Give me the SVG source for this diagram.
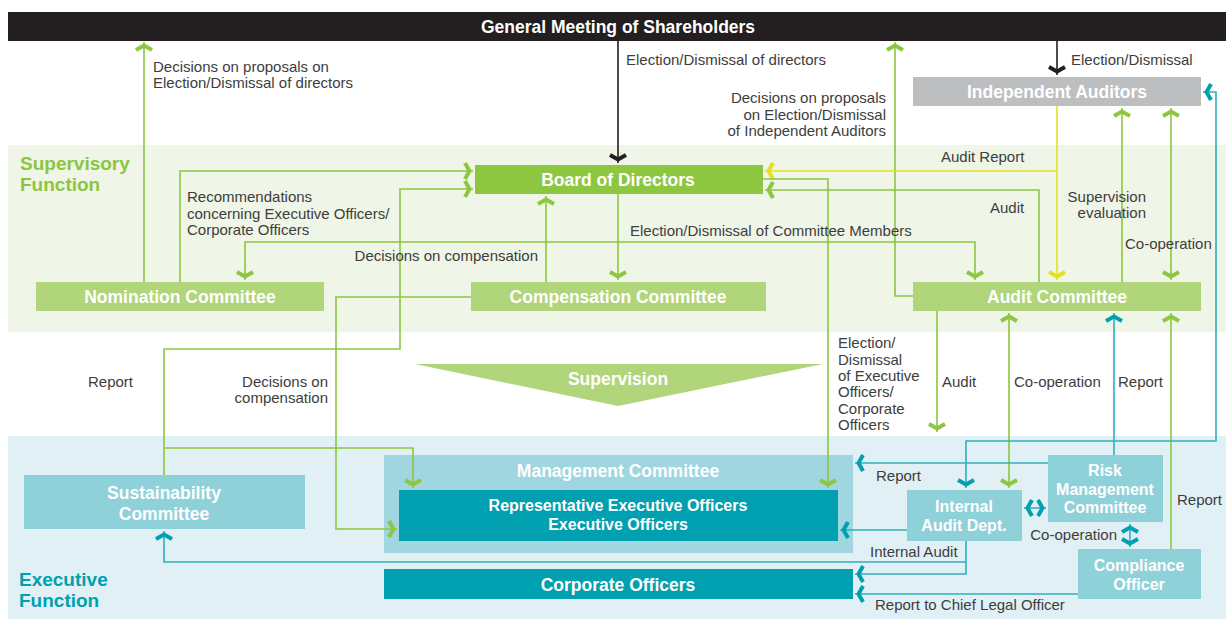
<svg xmlns="http://www.w3.org/2000/svg" width="1229" height="619" viewBox="0 0 1229 619">
<style>
.lbl{font-family:"Liberation Sans",Arial,sans-serif;font-size:15px;fill:#3d3d3d}
.nt{font-family:"Liberation Sans",Arial,sans-serif;font-size:17.5px;font-weight:bold;fill:#ffffff;text-anchor:middle}
.nm{font-size:16px}
.sec{font-family:"Liberation Sans",Arial,sans-serif;font-size:19px;font-weight:bold}
.g{fill:none;stroke:#8dc63f;stroke-width:1.6}
.y{fill:none;stroke:#e6e11e;stroke-width:1.6}
.k{fill:none;stroke:#231f20;stroke-width:1.6}
.t{fill:none;stroke:#2fb0be;stroke-width:1.6}
</style>
<defs>
<marker id="mg" viewBox="-13 -12 15 24" markerWidth="15" markerHeight="24" refX="0" refY="0" orient="auto-start-reverse" markerUnits="userSpaceOnUse"><path d="M-8,-8 L-3.5,0 L-8,8" fill="none" stroke="#8dc63f" stroke-width="4"/></marker>
<marker id="my" viewBox="-13 -12 15 24" markerWidth="15" markerHeight="24" refX="0" refY="0" orient="auto-start-reverse" markerUnits="userSpaceOnUse"><path d="M-8,-8 L-3.5,0 L-8,8" fill="none" stroke="#e6e11e" stroke-width="4"/></marker>
<marker id="mk" viewBox="-13 -12 15 24" markerWidth="15" markerHeight="24" refX="0" refY="0" orient="auto-start-reverse" markerUnits="userSpaceOnUse"><path d="M-8,-8 L-3.5,0 L-8,8" fill="none" stroke="#231f20" stroke-width="4"/></marker>
<marker id="mt" viewBox="-13 -12 15 24" markerWidth="15" markerHeight="24" refX="0" refY="0" orient="auto-start-reverse" markerUnits="userSpaceOnUse"><path d="M-8,-8 L-3.5,0 L-8,8" fill="none" stroke="#00a0b0" stroke-width="4"/></marker>
</defs>
<rect width="1229" height="619" fill="#ffffff"/>
<g id="bands">
<rect x="8" y="145" width="1218" height="187" fill="#eff5e7"/>
<rect x="8" y="436" width="1218" height="183" fill="#e1f0f4"/>
<text class="sec" x="20" y="170" fill="#8cc63f">Supervisory</text>
<text class="sec" x="20" y="190.5" fill="#8cc63f">Function</text>
<text class="sec" x="19" y="586" fill="#00a0b0">Executive</text>
<text class="sec" x="19" y="606.5" fill="#00a0b0">Function</text>
</g>
<g id="gm"><rect x="8" y="12" width="1218" height="29" fill="#231f20"/><text class="nt" x="618" y="33" font-size="19.5">General Meeting of Shareholders</text></g>
<g id="independent-auditors"><rect x="913" y="77" width="288" height="29" fill="#bcbec0"/><text class="nt" x="1057" y="98">Independent Auditors</text></g>
<g id="board"><rect x="475" y="165" width="288" height="29" fill="#8dc63f"/><text class="nt" x="618" y="186">Board of Directors</text></g>
<g id="nomination"><rect x="36" y="282" width="288" height="29" fill="#b0d57a"/><text class="nt" x="180" y="303">Nomination Committee</text></g>
<g id="compensation"><rect x="471" y="282" width="295" height="29" fill="#b0d57a"/><text class="nt" x="618" y="303">Compensation Committee</text></g>
<g id="audit-committee"><rect x="913" y="282" width="288" height="29" fill="#b0d57a"/><text class="nt" x="1057" y="303">Audit Committee</text></g>
<g id="supervision"><polygon points="415,364 823,364 618,406" fill="#b0d57a"/><text class="nt" x="618" y="385">Supervision</text></g>
<g id="management"><rect x="384" y="455" width="469" height="98" fill="#9fd6df"/><text class="nt" x="618" y="477">Management Committee</text></g>
<g id="rep-exec"><rect x="399" y="490" width="439" height="51" fill="#00a0b0"/><text class="nt nm" x="618" y="511">Representative Executive Officers</text><text class="nt nm" x="618" y="529.5">Executive Officers</text></g>
<g id="corporate"><rect x="384" y="569" width="469" height="30" fill="#00a0b0"/><text class="nt" x="618" y="591">Corporate Officers</text></g>
<g id="sustainability"><rect x="24" y="475" width="281" height="54" fill="#8fd1d9"/><text class="nt" x="164" y="498.5">Sustainability</text><text class="nt" x="164" y="520">Committee</text></g>
<g id="internal-audit"><rect x="907" y="490" width="115" height="51" fill="#8fd1d9"/><text class="nt nm" x="964" y="512">Internal</text><text class="nt nm" x="964" y="530.5">Audit Dept.</text></g>
<g id="risk"><rect x="1048" y="455" width="115" height="67" fill="#8fd1d9"/><text class="nt nm" x="1105" y="476">Risk</text><text class="nt nm" x="1105" y="494.5">Management</text><text class="nt nm" x="1105" y="513">Committee</text></g>
<g id="compliance"><rect x="1078" y="549" width="123" height="50" fill="#8fd1d9"/><text class="nt nm" x="1139" y="571">Compliance</text><text class="nt nm" x="1139" y="589.5">Officer</text></g>
<g id="connectors">
<path class="g" d="M144,282 V42" marker-end="url(#mg)"/>
<path class="g" d="M913,296 H895 V42" marker-end="url(#mg)"/>
<path class="k" d="M618,41 V163" marker-end="url(#mk)"/>
<path class="k" d="M1057,41 V75" marker-end="url(#mk)"/>
<path class="y" d="M1057,106 V280" marker-end="url(#my)"/>
<path class="y" d="M1057,171 H765" marker-end="url(#my)"/>
<path class="g" d="M1039,282 V190 H765" marker-end="url(#mg)"/>
<path class="g" d="M762,179 H828 V488" marker-end="url(#mg)"/>
<path class="g" d="M180,282 V171 H473" marker-end="url(#mg)"/>
<path class="g" d="M164,475 V349 H400 V189 H473" marker-end="url(#mg)"/>
<path class="g" d="M164,448 H413 V488" marker-end="url(#mg)"/>
<path class="g" d="M546,282 V196" marker-end="url(#mg)"/>
<path class="g" d="M471,297 H336 V529 H397" marker-end="url(#mg)"/>
<path class="g" d="M618,194 V280" marker-end="url(#mg)"/>
<path class="g" d="M245,280 V242 H975 V280" marker-start="url(#mg)" marker-end="url(#mg)"/>
<path class="g" d="M1122,282 V108" marker-end="url(#mg)"/>
<path class="g" d="M1171,108 V280" marker-start="url(#mg)" marker-end="url(#mg)"/>
<path class="g" d="M937,311 V432" marker-end="url(#mg)"/>
<path class="g" d="M1009,313 V488" marker-start="url(#mg)" marker-end="url(#mg)"/>
<path class="t" d="M1114,455 V313" marker-end="url(#mt)"/>
<path class="g" d="M1171,549 V313" marker-end="url(#mg)"/>
<path class="t" d="M966,488 V441 H1216 V92 H1203" marker-start="url(#mt)" marker-end="url(#mt)"/>
<path class="t" d="M1048,463 H855" marker-end="url(#mt)"/>
<path class="t" d="M1024,508 H1046" marker-start="url(#mt)" marker-end="url(#mt)"/>
<path class="t" d="M1130,524 V547" marker-start="url(#mt)" marker-end="url(#mt)"/>
<path class="t" d="M907,530 H840" marker-end="url(#mt)"/>
<path class="t" d="M966,541 V574 H855" marker-end="url(#mt)"/>
<path class="t" d="M966,562 H164 V531" marker-end="url(#mt)"/>
<path class="t" d="M1078,594 H855" marker-end="url(#mt)"/>
</g>
<g id="labels">
<text class="lbl" x="153" y="72">Decisions on proposals on</text>
<text class="lbl" x="153" y="88">Election/Dismissal of directors</text>
<text class="lbl" x="626" y="65">Election/Dismissal of directors</text>
<text class="lbl" x="1071" y="65">Election/Dismissal</text>
<text class="lbl" x="886" y="103" text-anchor="end">Decisions on proposals</text>
<text class="lbl" x="886" y="120" text-anchor="end">on Election/Dismissal</text>
<text class="lbl" x="886" y="136" text-anchor="end">of Independent Auditors</text>
<text class="lbl" x="941" y="162">Audit Report</text>
<text class="lbl" x="990" y="213">Audit</text>
<text class="lbl" x="1146" y="202" text-anchor="end">Supervision</text>
<text class="lbl" x="1146" y="218" text-anchor="end">evaluation</text>
<text class="lbl" x="1125" y="249">Co-operation</text>
<text class="lbl" x="187" y="202">Recommendations</text>
<text class="lbl" x="187" y="219">concerning Executive Officers/</text>
<text class="lbl" x="187" y="235">Corporate  Officers</text>
<text class="lbl" x="630" y="236">Election/Dismissal of Committee Members</text>
<text class="lbl" x="538" y="261" text-anchor="end">Decisions on compensation</text>
<text class="lbl" x="88" y="387">Report</text>
<text class="lbl" x="328" y="387" text-anchor="end">Decisions on</text>
<text class="lbl" x="328" y="403" text-anchor="end">compensation</text>
<text class="lbl" x="838" y="348">Election/</text>
<text class="lbl" x="838" y="364.5">Dismissal</text>
<text class="lbl" x="838" y="381">of Executive</text>
<text class="lbl" x="838" y="397">Officers/</text>
<text class="lbl" x="838" y="413.5">Corporate</text>
<text class="lbl" x="838" y="430">Officers</text>
<text class="lbl" x="942" y="387">Audit</text>
<text class="lbl" x="1014" y="387">Co-operation</text>
<text class="lbl" x="1118" y="387">Report</text>
<text class="lbl" x="876" y="481">Report</text>
<text class="lbl" x="1177" y="505">Report</text>
<text class="lbl" x="870" y="557">Internal Audit</text>
<text class="lbl" x="1117" y="540" text-anchor="end">Co-operation</text>
<text class="lbl" x="875" y="610">Report to Chief Legal Officer</text>
</g>
</svg>
